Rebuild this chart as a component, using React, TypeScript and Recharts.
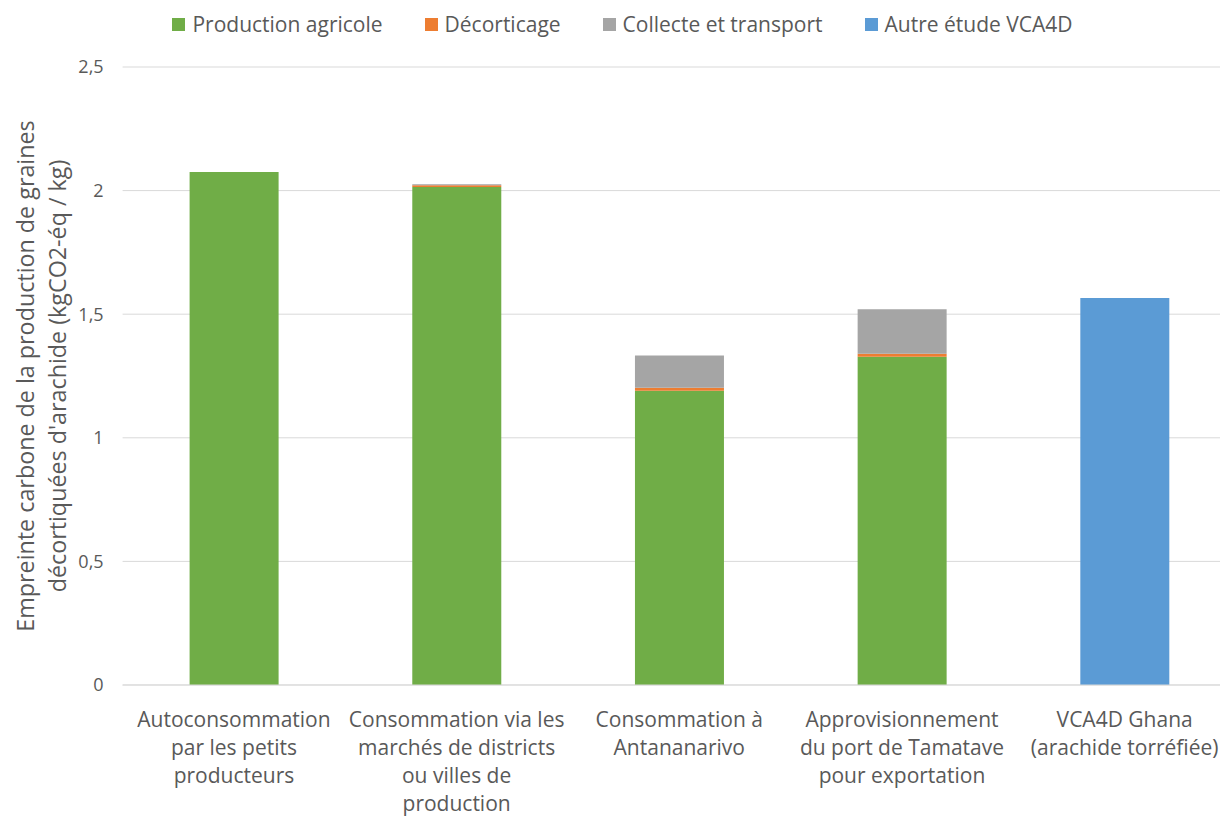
import { BarChart, Bar, XAxis, YAxis, CartesianGrid } from 'recharts';

const FONT = '"Open Sans", "Noto Sans", sans-serif';
const TEXT_COLOR = '#595959';

// Category labels, one entry per line
const categories = [
  'Autoconsommation\npar les petits\nproducteurs',
  'Consommation via les\nmarchés de districts\nou villes de\nproduction',
  'Consommation à\nAntananarivo',
  'Approvisionnement\ndu port de Tamatave\npour exportation',
  'VCA4D Ghana\n(arachide torréfiée)',
];

const productionAgricole = [2.075, 2.015, 1.19, 1.328, 0];
const decorticage = [0, 0.007, 0.012, 0.012, 0];
const collecteTransport = [0, 0.004, 0.131, 0.18, 0];
const autreEtude = [0, 0, 0, 0, 1.566];

const yTicks = [0, 0.5, 1, 1.5, 2, 2.5];

const series = [
  { key: 'production', name: 'Production agricole', color: '#70AD47' },
  { key: 'decorticage', name: 'Décorticage', color: '#ED7D31' },
  { key: 'collecte', name: 'Collecte et transport', color: '#A5A5A5' },
  { key: 'autre', name: 'Autre étude VCA4D', color: '#5B9BD5' },
];

const data = categories.map((name, i) => ({
  name,
  production: productionAgricole[i],
  decorticage: decorticage[i],
  collecte: collecteTransport[i],
  autre: autreEtude[i],
}));

const CategoryTick = ({ x, y, payload }: any) => {
  const lines = String(payload.value).split('\n');
  return (
    <text x={x} y={y} textAnchor="middle" fill={TEXT_COLOR} fontSize={21} fontFamily={FONT}>
      {lines.map((l, i) => (
        <tspan key={i} x={x} dy={i === 0 ? 34 : 28}>{l}</tspan>
      ))}
    </text>
  );
};

const AxisTitle = ({ viewBox }: any) => {
  const cy = viewBox.y + viewBox.height / 2;
  return (
    <g fill={TEXT_COLOR} fontSize={23.3} fontFamily={FONT} textAnchor="middle">
      <text transform={`translate(34, ${cy}) rotate(-90)`}>Empreinte carbone de la production de graines</text>
      <text transform={`translate(66, ${cy}) rotate(-90)`}>décortiquées d'arachide (kgCO2-éq / kg)</text>
    </g>
  );
};

export default function App() {
  return (
    <div style={{ position: 'absolute', left: 0, top: 0, width: 1220, height: 817, overflow: 'hidden', background: '#fff' }}>
      {/* Legend */}
      <div style={{ position: 'absolute', top: 10, left: 0, width: 1245, display: 'flex', justifyContent: 'center', gap: 42, fontFamily: FONT, fontSize: 21, color: TEXT_COLOR }}>
        {series.map(s => (
          <div key={s.key} style={{ display: 'flex', alignItems: 'center', gap: 7 }}>
            <span style={{ width: 13, height: 13, background: s.color, display: 'inline-block' }} />
            <span>{s.name}</span>
          </div>
        ))}
      </div>

      <BarChart width={1240} height={817} data={data} margin={{ top: 67, right: 4, left: 0, bottom: 0 }}>
        <CartesianGrid vertical={false} stroke="#D9D9D9" />
        <XAxis
          dataKey="name"
          height={132}
          interval={0}
          tickLine={false}
          axisLine={{ stroke: '#D9D9D9' }}
          tick={<CategoryTick />}
        />
        <YAxis
          width={122.6}
          domain={[0, 2.5]}
          ticks={yTicks}
          axisLine={false}
          tickLine={false}
          tickSize={0}
          tickMargin={19}
          tick={{ fill: TEXT_COLOR, fontSize: 18, fontFamily: FONT }}
          tickFormatter={(v: number) => String(v).replace('.', ',')}
          label={<AxisTitle />}
        />
        {series.map(s => (
          <Bar key={s.key} dataKey={s.key} name={s.name} stackId="a" fill={s.color} barSize={89} isAnimationActive={false} />
        ))}
      </BarChart>
    </div>
  );
}
